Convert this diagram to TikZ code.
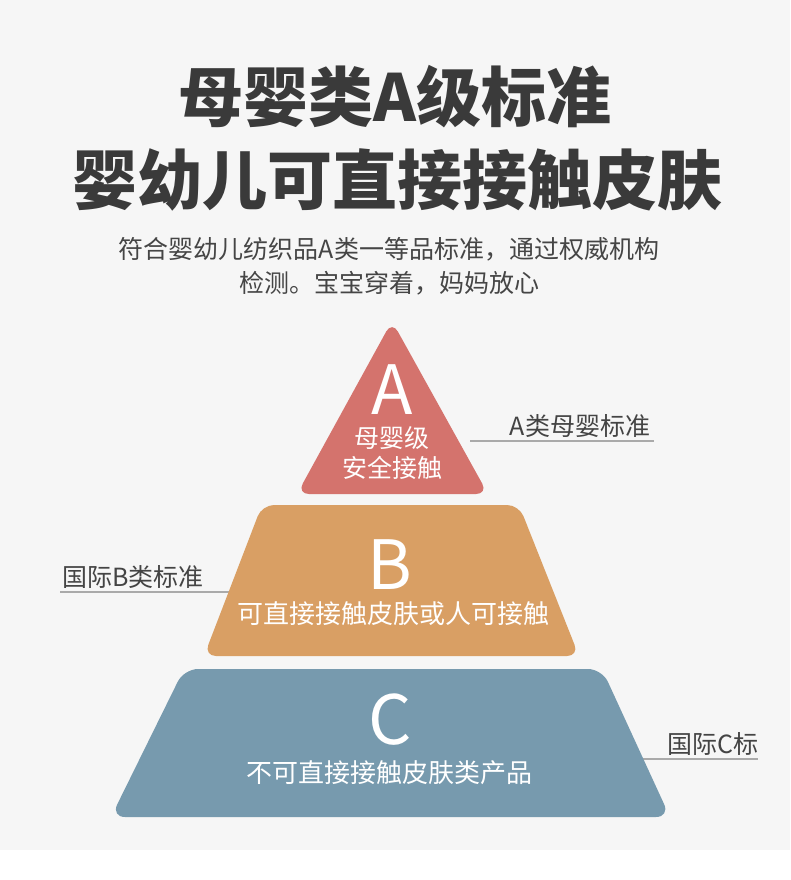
\documentclass[tikz,border=0pt]{standalone}
\usepackage{fontspec}
\setmainfont{Noto Sans CJK SC}
\definecolor{bg}{HTML}{F6F6F6}
\definecolor{colA}{HTML}{D4736D}
\definecolor{colB}{HTML}{D99F64}
\definecolor{colC}{HTML}{779AAE}
\definecolor{titlec}{HTML}{3A3A3A}
\definecolor{subc}{HTML}{454545}
\definecolor{labc}{HTML}{444444}
\definecolor{linec}{HTML}{AAAAAA}
\tikzset{
  titletext/.style={text=titlec, font=\fontsize{65}{70}\selectfont\bfseries, inner sep=0pt},
  subtext/.style={text=subc, font=\fontsize{25}{28}\selectfont, inner sep=0pt},
  bigletter/.style={text=white, font=\fontsize{68}{70}\selectfont, inner sep=0pt},
  intext/.style={text=white, font=\fontsize{#1}{#1}\selectfont, inner sep=0pt},
  labtext/.style={text=labc, font=\fontsize{25}{28}\selectfont, inner sep=0pt},
  labline/.style={draw=linec, line width=2pt},
}
\begin{document}
\begin{tikzpicture}[x=1pt,y=-1pt]
\useasboundingbox (0,0) rectangle (790,880);
\fill[bg] (0,0) rectangle (790,850);
\fill[white] (0,850) rectangle (790,880);

% titles
\node[titletext] (t1) at (395,97) {母婴类A级标准};
\node[titletext] (t2) at (397,180) {婴幼儿可直接接触皮肤};
\node[subtext] (s1) at (389,249) {符合婴幼儿纺织品A类一等品标准，通过权威机构};
\node[subtext] (s2) at (389,283) {检测。宝宝穿着，妈妈放心};

% label lines (behind shapes)
\node[labtext, anchor=south] (la) at (580,438) {A类母婴标准};
\coordinate (laL) at (470,441);
\coordinate (laR) at (654,441);
\draw[labline] (laL) -- (laR);

\node[labtext, anchor=south] (lb) at (133,589) {国际B类标准};
\coordinate (lbL) at (60,592);
\coordinate (lbR) at (252,592);
\draw[labline] (lbL) -- (lbR);

\node[labtext, anchor=south] (lc) at (713,756) {国际C标};
\coordinate (lcL) at (640,759);
\coordinate (lcR) at (758,759);
\draw[labline] (lcL) -- (lcR);

% pyramid
\fill[colA, rounded corners=12pt] (392,321) -- (488,494) -- (297,494) -- cycle;
\fill[colB, rounded corners=12pt] (262,505) -- (519,505) -- (579,656) -- (204,656) -- cycle;
\fill[colC, rounded corners=14pt] (184,669) -- (602,669) -- (670,817) -- (111,817) -- cycle;

% shape texts
\node[bigletter] (A) at (392,390) {A};
\node[intext=25] (a1) at (392,438) {母婴级};
\node[intext=25] (a2) at (392,468) {安全接触};
\node[bigletter] (B) at (390,565) {B};
\node[intext=26] (b1) at (393,614) {可直接接触皮肤或人可接触};
\node[bigletter] (C) at (390,720) {C};
\node[intext=26] (c1) at (389,773) {不可直接接触皮肤类产品};
\end{tikzpicture}
\end{document}
